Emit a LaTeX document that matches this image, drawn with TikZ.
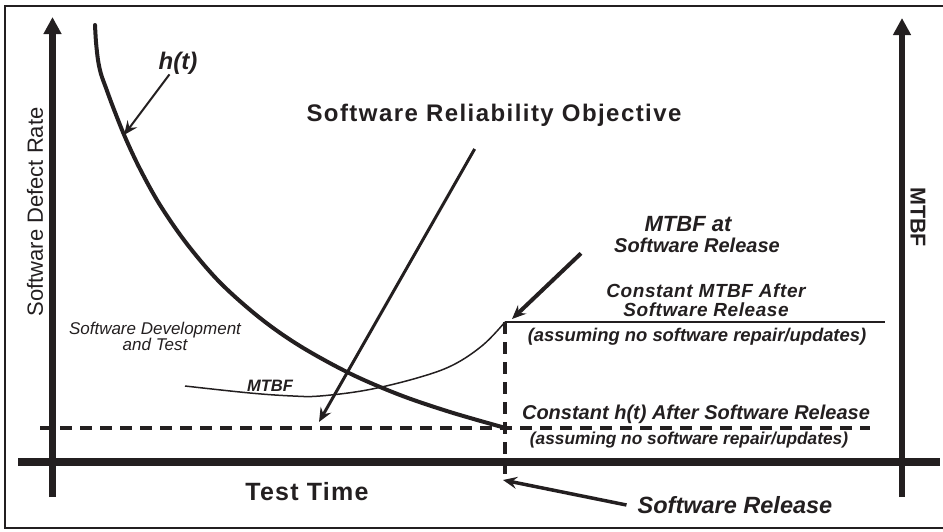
\documentclass[tikz,border=0pt]{standalone}
\usepackage{fontspec}
\setmainfont{Liberation Sans}
\usetikzlibrary{arrows.meta}
\definecolor{relink}{RGB}{35,31,32}
% tracked type, size in pt and letter spacing
\newcommand{\relfont}[2]{\fontsize{#1}{#1}\selectfont\addfontfeature{LetterSpace=#2}}

\begin{document}
\begin{tikzpicture}[x=1pt, y=-1pt,
    axisline/.style={relink, -{Triangle[length=17pt,width=17pt]}},
    curveline/.style={relink, line width=4pt, line cap=round},
    thinline/.style={relink, line width=1.5pt},
    dashline/.style={relink, line width=3.5pt, dash pattern=on 12pt off 8pt},
    arr/.style={relink, -{Stealth[length=14pt,width=12pt,inset=5pt]}},
    lbl/.style={text=relink, align=center, inner sep=0pt},
    bi/.style={font=\bfseries\itshape\relfont{#1}{0}},
  ]
  \useasboundingbox (0,0) rectangle (943,531);

  % frame (right edge falls off the page)
  \draw[relink, line width=2.5pt] (946,6) -- (5,6) -- (5,528) -- (946,528);

  % axes
  \draw[axisline, line width=7pt] (52.5,497) -- (52.5,17);
  \draw[relink, line width=8pt] (18,462) -- (940,462);
  \draw[axisline, line width=6pt] (902,497) -- (902,18);

  % h(t) curve
  \draw[curveline] plot[smooth, tension=0.55] coordinates {
    (95,25) (96,42) (98,60) (101,74) (106,88) (113,107) (125,137)
    (140,169) (160,205) (187,244) (220,282.5) (260,318) (300,346)
    (350,373.5) (400,395) (450,412) (502,427)};

  % MTBF curve
  \draw[thinline] plot[smooth, tension=0.6] coordinates {
    (185,386) (250,393) (293,396) (320,396) (367,390) (417,378)
    (453,365) (483,345) (505,322)};

  % constant MTBF after release
  \draw[thinline] (505,322) -- (885,322);

  % constant h(t) and release line
  \draw[dashline] (40,428) -- (870,428);
  \draw[dashline] (505,322) -- (505,476);

  % axis labels
  \node[lbl, rotate=90, font=\relfont{22}{0}] (ylab) at (35,212)
    {Software Defect Rate};
  \node[lbl, rotate=-90, font=\bfseries\relfont{21.5}{0}] (y2lab)
    at (918,217) {MTBF};
  \node[lbl, font=\bfseries\relfont{25}{5}] (xlab) at (307,492)
    {Test Time};

  % curve labels
  \node[lbl, bi=24] (ht) at (178,63) {h(t)};
  \coordinate (httip) at (124,135);
  \draw[arr, line width=2pt] (ht) -- (httip);

  \node[lbl, bi=16.5] (mtbf) at (270,386) {MTBF};

  \node[lbl, font=\itshape\relfont{17}{0}] (devtest) at (155,336)
    {Software Development\\[-1pt]and Test};

  % objective
  \node[lbl, font=\bfseries\relfont{24}{6}] (objective)
    at (494,115) {Software Reliability Objective};
  \coordinate (objtip) at (319,422);
  \draw[arr, line width=3pt, shorten <=26pt] (objective) -- (objtip);

  % release point
  \node[lbl, font=\bfseries\itshape\relfont{20}{0}] (mtbfat) at (697,235)
    {\hspace*{-18pt}{\relfont{22}{0}MTBF at}\\[1pt]Software Release};
  \coordinate (reltop) at (512,319);
  \draw[arr, line width=4pt] ([xshift=-33pt]mtbfat.south west) -- (reltop);

  \node[lbl, font=\bfseries\itshape\relfont{19}{3}] (constmtbf)
    at (706,300) {Constant MTBF After\\[0pt]Software Release};
  \node[lbl, bi=18.4] (assume1) at (697,337)
    {(assuming no software repair/updates)};

  \node[lbl, bi=20] (constht) at (696,414)
    {Constant h(t) After Software Release};
  \node[lbl, bi=17.3] (assume2) at (689,440)
    {(assuming no software repair/updates)};

  \node[lbl, bi=23.5] (swrel) at (735,505) {Software Release};
  \coordinate (relbot) at (503,480);
  \draw[arr, line width=3.5pt] ([xshift=-11pt]swrel.west) -- (relbot);
\end{tikzpicture}
\end{document}
